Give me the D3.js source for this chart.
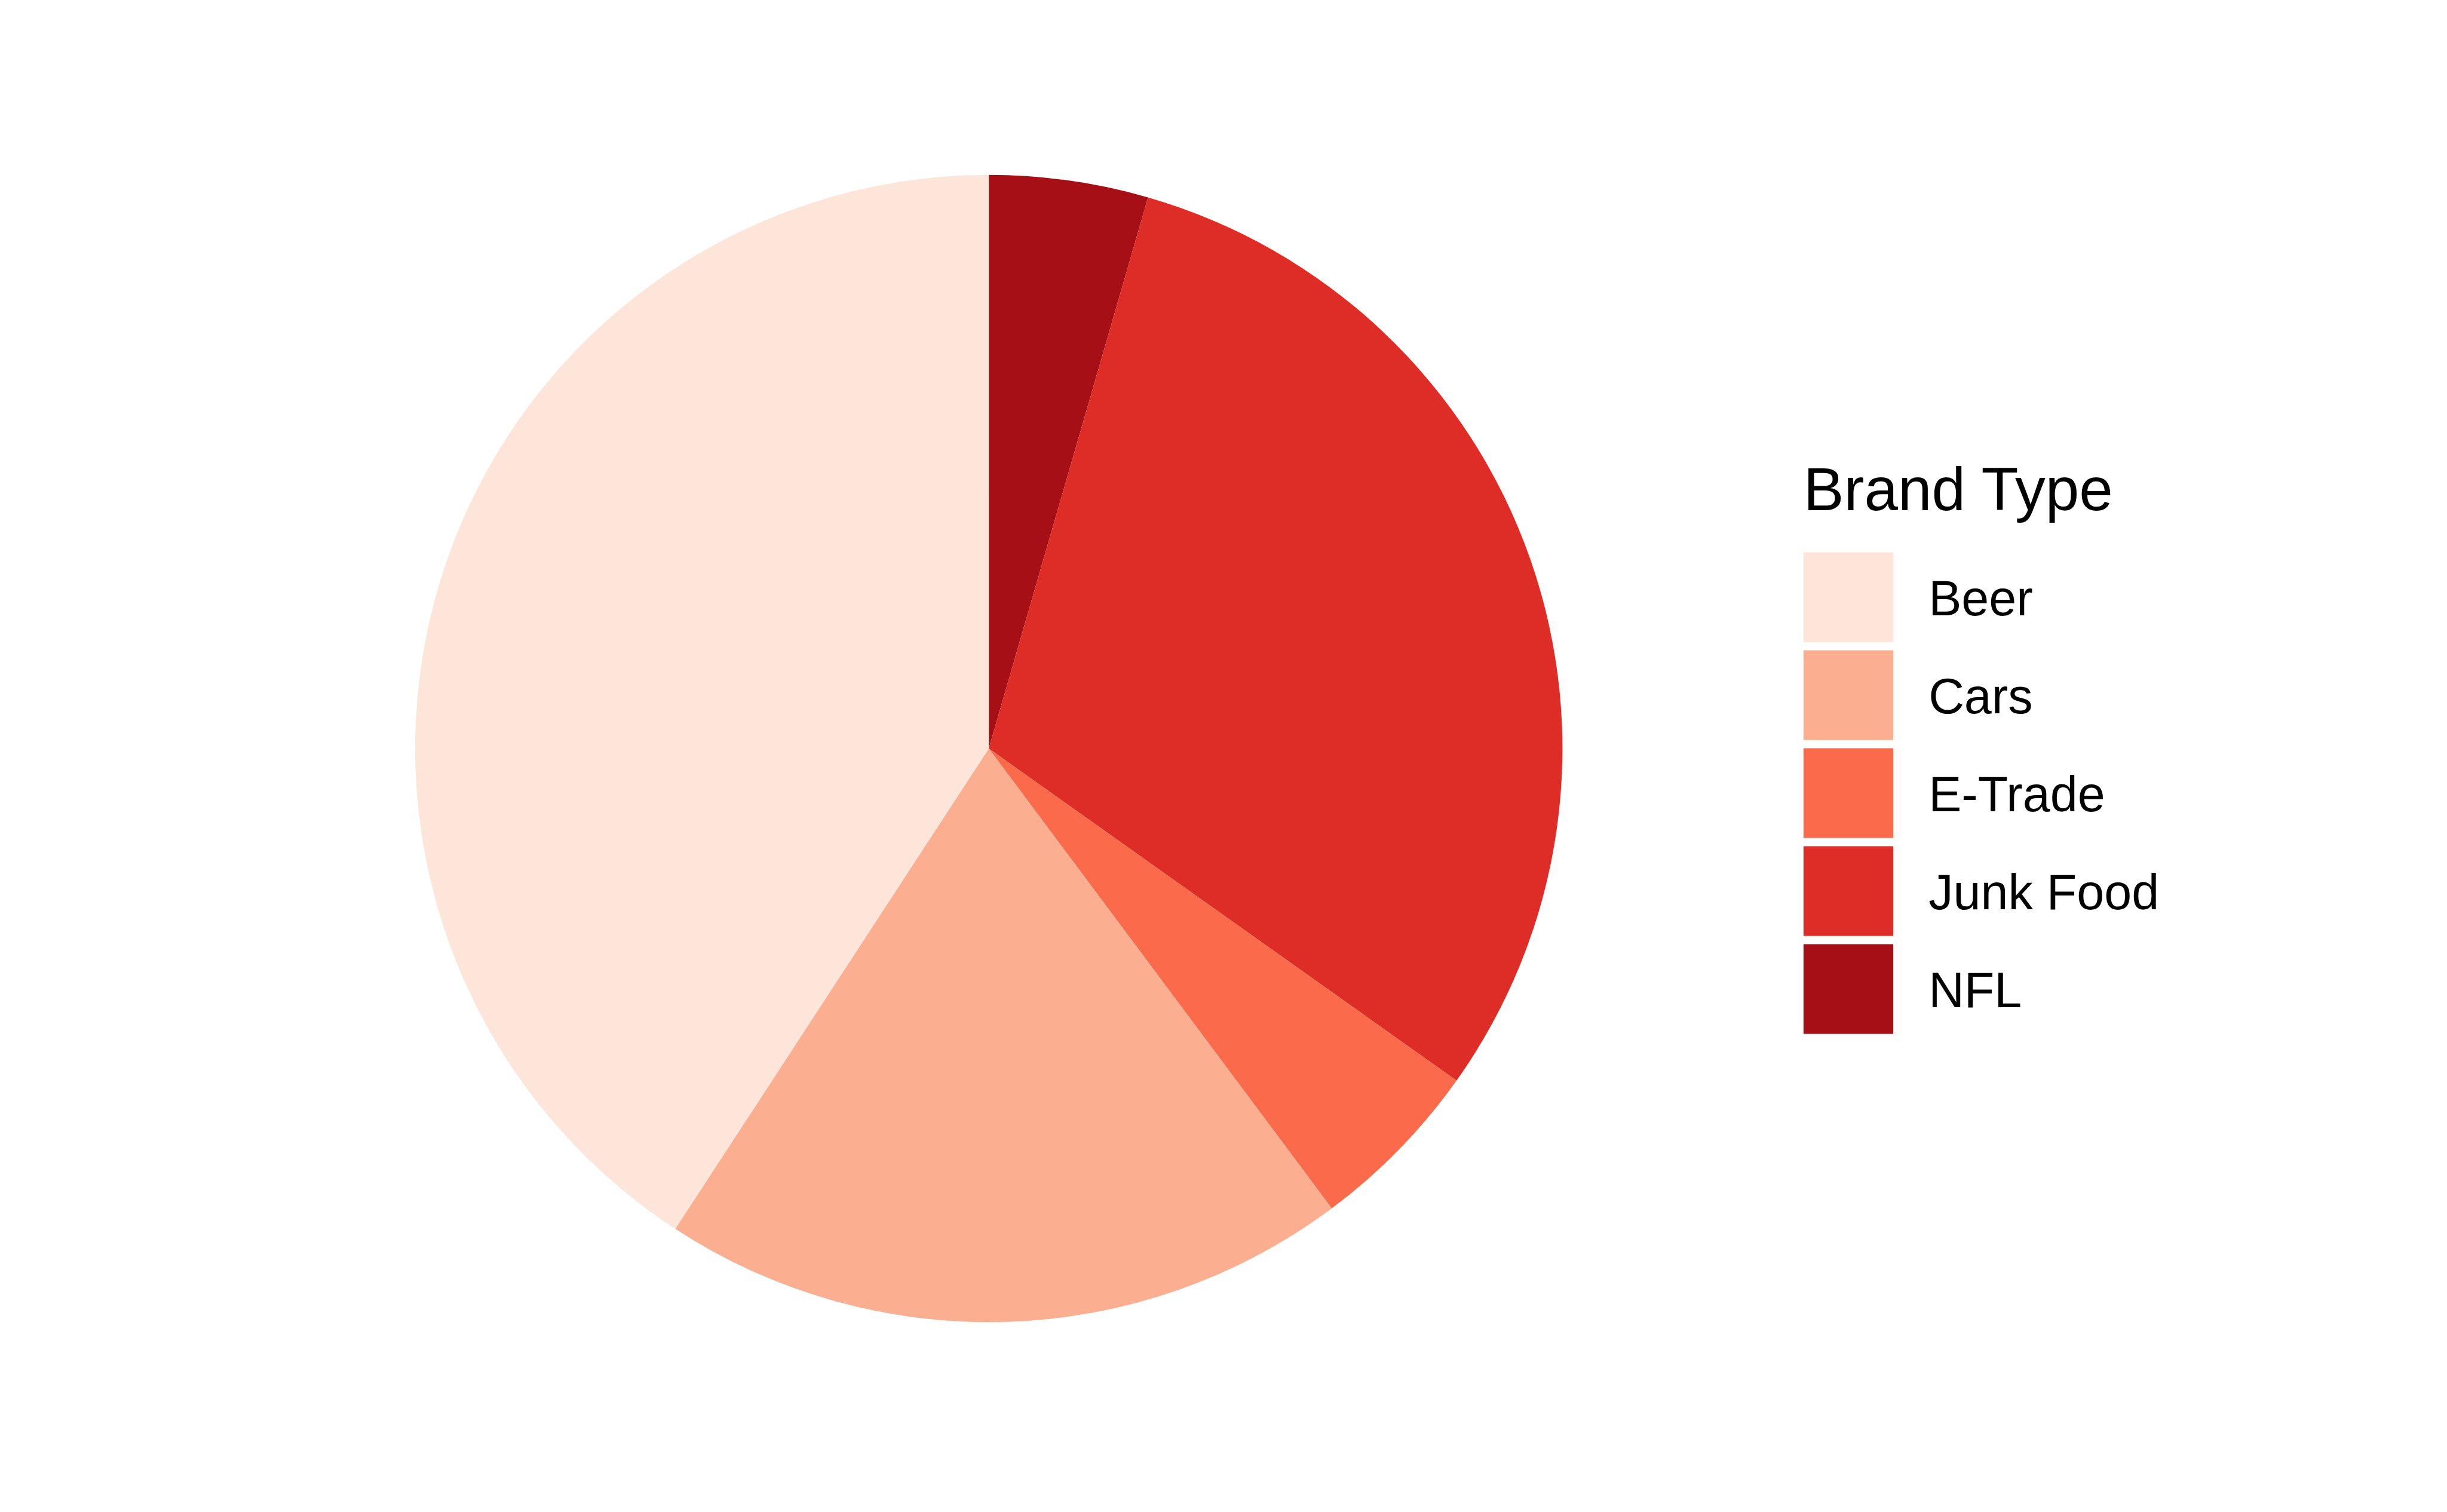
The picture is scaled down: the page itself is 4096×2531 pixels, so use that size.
<!DOCTYPE html>
<html>
<head>
<meta charset="utf-8">
<script src="https://cdn.jsdelivr.net/npm/d3@7"></script>
<style>
  html, body { margin: 0; padding: 0; background: #ffffff; overflow: hidden; }
  svg { display: block; }
</style>
</head>
<body>
<script>
// ---- data (legend order) ----
const categories = ["Beer", "Cars", "E-Trade", "Junk Food", "NFL"];
const counts = [82, 39, 10, 61, 9];
const colors = ["#fee5d9", "#fcae91", "#fb6a4a", "#de2d26", "#a50f15"];
const legendTitle = "Brand Type";

// ---- layout in reference pixel space (5400 x 3337), scaled by viewBox ----
const W = 5400, H = 3337;
const svg = d3.select("body").append("svg")
  .attr("width", 4096).attr("height", 2531)
  .attr("viewBox", `0 0 ${W} ${H}`);

svg.append("rect").attr("width", W).attr("height", H).attr("fill", "#ffffff");

const cx = 2182, cy = 1652, R = 1266;

const color = d3.scaleOrdinal().domain(categories).range(colors);

// slices go clockwise from 12 o'clock in reverse legend order (stacking order)
const pieData = categories.map((c, i) => ({ cat: c, value: counts[i] })).reverse();
const pie = d3.pie().sort(null).value(d => d.value);
const arc = d3.arc().innerRadius(0).outerRadius(R);

svg.append("g")
  .attr("transform", `translate(${cx},${cy})`)
  .selectAll("path")
  .data(pie(pieData))
  .join("path")
  .attr("d", arc)
  .attr("fill", d => color(d.data.cat));

// ---- legend ----
const font = "'Liberation Sans', Arial, Helvetica, sans-serif";
const legX = 3980, keyTop = 1219, keySize = 198, pitch = 216.2;

svg.append("text")
  .attr("x", legX).attr("y", 1126)
  .attr("font-family", font).attr("font-size", 134)
  .attr("fill", "#000000")
  .text(legendTitle);

const items = svg.append("g").selectAll("g")
  .data(categories)
  .join("g")
  .attr("transform", (d, i) => `translate(${legX},${keyTop + i * pitch})`);

items.append("rect")
  .attr("width", keySize).attr("height", keySize)
  .attr("fill", d => color(d));

items.append("text")
  .attr("x", 276).attr("y", keySize / 2 + 40)
  .attr("font-family", font).attr("font-size", 109)
  .attr("fill", "#000000")
  .text(d => d);
</script>
</body>
</html>
